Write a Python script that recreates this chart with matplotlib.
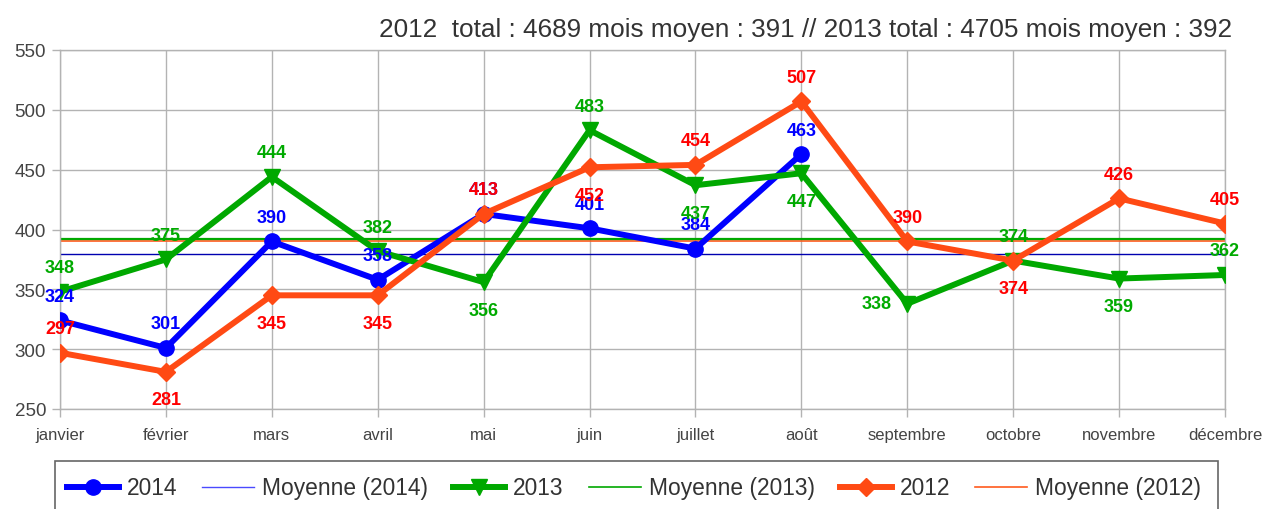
import numpy as np
import matplotlib
matplotlib.use("Agg")
import matplotlib.pyplot as plt
from matplotlib.lines import Line2D
from matplotlib.patches import Rectangle

plt.rcParams['font.family'] = ['Liberation Sans', 'DejaVu Sans']

months = ["janvier", "février", "mars", "avril", "mai", "juin", "juillet",
          "août", "septembre", "octobre", "novembre", "décembre"]
v2014 = [324, 301, 390, 358, 413, 401, 384, 463]
v2013 = [348, 375, 444, 382, 356, 483, 437, 447, 338, 374, 359, 362]
v2012 = [297, 281, 345, 345, 413, 452, 454, 507, 390, 374, 426, 405]
title_text = "2012  total : 4689 mois moyen : 391 // 2013 total : 4705 mois moyen : 392"

# label placement (style): 'a' above, 'b' below, 'l' left
pos2014 = ['a'] * 8
pos2013 = ['a', 'a', 'a', 'a', 'b', 'a', 'b', 'b', 'l', 'a', 'b', 'a']
pos2012 = ['a', 'b', 'b', 'b', 'a', 'b', 'a', 'a', 'a', 'b', 'a', 'a']

W, H = 1262, 510
fig = plt.figure(figsize=(W / 100, H / 100), dpi=100)
ax = fig.add_axes([60 / W, 1 - 410 / H, 1165 / W, 359 / H])

grid_c = '#b3b3b3'
ax.set_xlim(0, 11)
ax.set_ylim(250, 550)
ax.set_yticks(np.arange(250, 551, 50))
ax.set_xticks(np.arange(12))
ax.set_xticklabels(months)
ax.grid(True, color=grid_c, lw=1)
ax.set_axisbelow(True)
for s in ax.spines.values():
    s.set_color(grid_c)
    s.set_linewidth(1)
ax.tick_params(axis='both', colors=grid_c, length=6, width=1, direction='out')
ax.tick_params(axis='y', labelcolor='#444444', labelsize=13.5, pad=4)
ax.tick_params(axis='x', labelcolor='#444444', labelsize=12, pad=7)

c_blue = '#0000ff'
c_green = '#00a800'
c_red = '#ff4a14'

x14 = np.arange(len(v2014))
x13 = np.arange(len(v2013))
x12 = np.arange(len(v2012))

m14 = np.mean(v2014)
m13 = np.mean(v2013)
m12 = np.mean(v2012)

ax.plot([0, 11], [m14, m14], color='#0000b0', lw=1.0, zorder=2)
ax.plot([0, 11], [m12, m12], color='#ff5a1e', lw=1.2, zorder=2)
ax.plot([0, 11], [m13, m13], color='#00a800', lw=1.6, zorder=2)

ax.plot(x14, v2014, color=c_blue, lw=4.3, marker='o', ms=11, zorder=3)
ax.plot(x13, v2013, color=c_green, lw=4.3, marker='v', ms=12, zorder=4)
ax.plot(x12, v2012, color=c_red, lw=4.3, marker='D', ms=9, zorder=5)

offs = {'a': (0, 24), 'b': (0, -28), 'l': (-31, 0)}

def labels(xs, vs, ps, col):
    for xi, vi, p in zip(xs, vs, ps):
        dx, dy = offs[p]
        ax.annotate(str(vi), (xi, vi), xytext=(dx, dy), textcoords='offset pixels',
                    ha='center', va='center', color=col, fontsize=13,
                    fontweight='bold', zorder=10, annotation_clip=False)

labels(x14, v2014, pos2014, '#0000ff')
labels(x13, v2013, pos2013, '#00aa00')
labels(x12, v2012, pos2012, '#ff0000')

fig.text(1232 / W, 1 - 30 / H, title_text, ha='right', va='center',
         fontsize=18.8, color='#333333')

# legend box (cut off at bottom)
fig.patches.append(Rectangle((55 / W, -0.2), (1218 - 55) / W, 0.2 + 1 - 462 / H,
                             transform=fig.transFigure, fill=False,
                             edgecolor='#666666', lw=1.2))

handles = [
    Line2D([], [], color=c_blue, lw=4.3, marker='o', ms=11),
    Line2D([], [], color='#4a4aff', lw=1.0),
    Line2D([], [], color=c_green, lw=4.3, marker='v', ms=12),
    Line2D([], [], color='#00a800', lw=1.2),
    Line2D([], [], color=c_red, lw=4.3, marker='D', ms=9),
    Line2D([], [], color='#ff5a1e', lw=1.2),
]
names = ["2014", "Moyenne (2014)", "2013", "Moyenne (2013)", "2012", "Moyenne (2012)"]
fig.legend(handles, names, loc='center', bbox_to_anchor=((68 + 1200) / 2 / W, 1 - 489 / H),
           ncol=6, frameon=False, fontsize=16.4, handlelength=2.28, handletextpad=0.35,
           columnspacing=1.1, labelcolor='#333333', borderpad=0, borderaxespad=0)

fig.savefig('out.png', dpi=100)
